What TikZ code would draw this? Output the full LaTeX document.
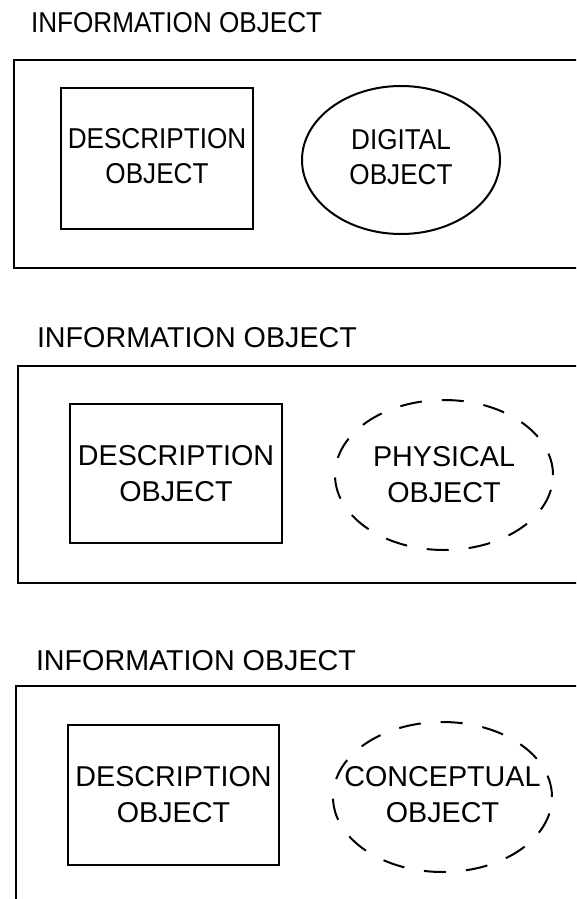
\documentclass[tikz,border=0pt]{standalone}
\usepackage{fontspec}
\setmainfont{Liberation Sans}
\usetikzlibrary{shapes.geometric}

\newcommand{\smallpanel}{\fontsize{28.7}{35}\selectfont}
\newcommand{\largepanel}{\fontsize{28.7}{36}\selectfont}
\newcommand{\twolines}[2]{\begin{tabular}{@{}c@{}}#1\\#2\end{tabular}}
\newcommand{\narrowed}[1]{\scalebox{0.91}[1]{#1}}

\begin{document}
\begin{tikzpicture}[x=1pt,y=-1pt,line width=2pt,
    descbox/.style={draw,rectangle,inner sep=0pt,align=center},
    objoval/.style={draw,ellipse,inner sep=0pt,align=center},
    dashoval/.style={objoval,dash pattern=on 22pt off 20pt}]
\clip (0,0) rectangle (576,899);

\node [anchor=base west,inner sep=0pt,font=\smallpanel] (title1) at (30,33) {\narrowed{INFORMATION OBJECT}};
\draw (600,60) -- (14,60) -- (14,268) -- (600,268);
\node [descbox,minimum width=192pt,minimum height=141pt,font=\smallpanel] (desc1) at (157,158.5) {\narrowed{\twolines{DESCRIPTION}{OBJECT}}};
\node [objoval,minimum width=198pt,minimum height=148pt,font=\smallpanel] (digital) at (401,160) {\narrowed{\twolines{DIGITAL}{OBJECT}}};

\node [anchor=base west,inner sep=0pt,font=\largepanel] (title2) at (36,347) {INFORMATION OBJECT};
\draw (600,366) -- (18,366) -- (18,583) -- (600,583);
\node [descbox,minimum width=212pt,minimum height=139pt,font=\largepanel] (desc2) at (176,473.5) {DESCRIPTION\\OBJECT};
\node [dashoval,minimum width=218pt,minimum height=150pt,font=\largepanel] (physical) at (444,475) {PHYSICAL\\OBJECT};

\node [anchor=base west,inner sep=0pt,font=\largepanel] (title3) at (35,670) {INFORMATION OBJECT};
\draw (600,686) -- (16,686) -- (16,930);
\node [descbox,minimum width=211pt,minimum height=140pt,font=\largepanel] (desc3) at (173.5,795) {DESCRIPTION\\OBJECT};
\node [dashoval,minimum width=219pt,minimum height=150pt,font=\largepanel] (conceptual) at (442.5,797) {\makebox[0pt]{\twolines{CONCEPTUAL}{OBJECT}}};
\end{tikzpicture}
\end{document}
